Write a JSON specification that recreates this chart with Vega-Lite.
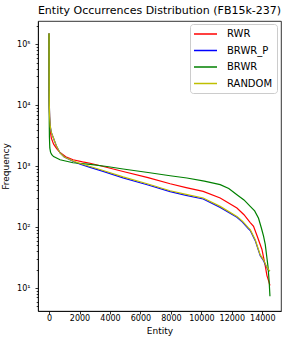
{
  "$schema": "https://vega.github.io/schema/vega-lite/v6.json",
  "width": 243,
  "height": 290,
  "autosize": {"type": "none"},
  "padding": {"left": 38, "top": 21, "right": 6, "bottom": 33},
  "background": "white",
  "title": {"text": "Entity Occurrences Distribution (FB15k-237)", "fontSize": 11, "font": "DejaVu Sans", "fontWeight": "normal", "anchor": "middle", "offset": 5, "color": "black"},
  "datasets": {
    "pts": [
      {"series":"RWR","entity":0,"frequency":150000},{"series":"RWR","entity":4,"frequency":40000},{"series":"RWR","entity":10,"frequency":15000},{"series":"RWR","entity":20,"frequency":9000},{"series":"RWR","entity":40,"frequency":5500},{"series":"RWR","entity":80,"frequency":3800},{"series":"RWR","entity":150,"frequency":2900},{"series":"RWR","entity":300,"frequency":2300},{"series":"RWR","entity":500,"frequency":1950},{"series":"RWR","entity":723,"frequency":1680},{"series":"RWR","entity":1100,"frequency":1430},{"series":"RWR","entity":1577,"frequency":1280},{"series":"RWR","entity":2200,"frequency":1180},{"series":"RWR","entity":2694,"frequency":1120},{"series":"RWR","entity":3500,"frequency":1000},{"series":"RWR","entity":4863,"frequency":820},{"series":"RWR","entity":6500,"frequency":650},{"series":"RWR","entity":7952,"frequency":515},{"series":"RWR","entity":9000,"frequency":445},{"series":"RWR","entity":10121,"frequency":386},{"series":"RWR","entity":11238,"frequency":301},{"series":"RWR","entity":12336,"frequency":206},{"series":"RWR","entity":12800,"frequency":160},{"series":"RWR","entity":13210,"frequency":119},{"series":"RWR","entity":13427,"frequency":103},{"series":"RWR","entity":13670,"frequency":71},{"series":"RWR","entity":13979,"frequency":43},{"series":"RWR","entity":14196,"frequency":23},{"series":"RWR","entity":14308,"frequency":16},{"series":"RWR","entity":14420,"frequency":13},{"series":"RWR","entity":14505,"frequency":11},
      {"series":"BRWR_P","entity":0,"frequency":155000},{"series":"BRWR_P","entity":4,"frequency":45000},{"series":"BRWR_P","entity":10,"frequency":18000},{"series":"BRWR_P","entity":20,"frequency":10000},{"series":"BRWR_P","entity":40,"frequency":6500},{"series":"BRWR_P","entity":80,"frequency":4500},{"series":"BRWR_P","entity":150,"frequency":3600},{"series":"BRWR_P","entity":300,"frequency":2850},{"series":"BRWR_P","entity":500,"frequency":2100},{"series":"BRWR_P","entity":723,"frequency":1650},{"series":"BRWR_P","entity":1000,"frequency":1420},{"series":"BRWR_P","entity":1577,"frequency":1210},{"series":"BRWR_P","entity":2000,"frequency":1090},{"series":"BRWR_P","entity":2694,"frequency":960},{"series":"BRWR_P","entity":3500,"frequency":830},{"series":"BRWR_P","entity":4863,"frequency":645},{"series":"BRWR_P","entity":6500,"frequency":492},{"series":"BRWR_P","entity":7952,"frequency":382},{"series":"BRWR_P","entity":9000,"frequency":333},{"series":"BRWR_P","entity":10121,"frequency":290},{"series":"BRWR_P","entity":11238,"frequency":211},{"series":"BRWR_P","entity":12336,"frequency":145},{"series":"BRWR_P","entity":12700,"frequency":121},{"series":"BRWR_P","entity":13078,"frequency":95},{"series":"BRWR_P","entity":13210,"frequency":88},{"series":"BRWR_P","entity":13539,"frequency":60},{"series":"BRWR_P","entity":13867,"frequency":34},{"series":"BRWR_P","entity":14084,"frequency":28},{"series":"BRWR_P","entity":14300,"frequency":21.5},{"series":"BRWR_P","entity":14413,"frequency":19.5},{"series":"BRWR_P","entity":14505,"frequency":19},
      {"series":"BRWR","entity":0,"frequency":150000},{"series":"BRWR","entity":3,"frequency":40000},{"series":"BRWR","entity":8,"frequency":12000},{"series":"BRWR","entity":15,"frequency":5000},{"series":"BRWR","entity":25,"frequency":3000},{"series":"BRWR","entity":50,"frequency":2000},{"series":"BRWR","entity":100,"frequency":1700},{"series":"BRWR","entity":177,"frequency":1550},{"series":"BRWR","entity":300,"frequency":1440},{"series":"BRWR","entity":723,"frequency":1280},{"series":"BRWR","entity":1577,"frequency":1140},{"series":"BRWR","entity":2694,"frequency":1070},{"series":"BRWR","entity":3800,"frequency":990},{"series":"BRWR","entity":4863,"frequency":900},{"series":"BRWR","entity":6500,"frequency":790},{"series":"BRWR","entity":7952,"frequency":698},{"series":"BRWR","entity":9050,"frequency":641},{"series":"BRWR","entity":10200,"frequency":570},{"series":"BRWR","entity":11238,"frequency":498},{"series":"BRWR","entity":11800,"frequency":430},{"series":"BRWR","entity":12336,"frequency":341},{"series":"BRWR","entity":12800,"frequency":280},{"series":"BRWR","entity":13210,"frequency":219},{"series":"BRWR","entity":13500,"frequency":185},{"series":"BRWR","entity":13755,"frequency":140},{"series":"BRWR","entity":13950,"frequency":95},{"series":"BRWR","entity":14084,"frequency":71},{"series":"BRWR","entity":14196,"frequency":52},{"series":"BRWR","entity":14300,"frequency":32},{"series":"BRWR","entity":14380,"frequency":22},{"series":"BRWR","entity":14450,"frequency":13},{"series":"BRWR","entity":14505,"frequency":7.3},
      {"series":"RANDOM","entity":0,"frequency":155000},{"series":"RANDOM","entity":4,"frequency":45000},{"series":"RANDOM","entity":10,"frequency":18000},{"series":"RANDOM","entity":20,"frequency":10000},{"series":"RANDOM","entity":40,"frequency":6500},{"series":"RANDOM","entity":80,"frequency":4500},{"series":"RANDOM","entity":150,"frequency":3600},{"series":"RANDOM","entity":300,"frequency":2850},{"series":"RANDOM","entity":500,"frequency":2100},{"series":"RANDOM","entity":723,"frequency":1650},{"series":"RANDOM","entity":1000,"frequency":1420},{"series":"RANDOM","entity":1577,"frequency":1220},{"series":"RANDOM","entity":2000,"frequency":1120},{"series":"RANDOM","entity":2694,"frequency":990},{"series":"RANDOM","entity":3500,"frequency":860},{"series":"RANDOM","entity":4863,"frequency":668},{"series":"RANDOM","entity":6500,"frequency":510},{"series":"RANDOM","entity":7952,"frequency":396},{"series":"RANDOM","entity":9000,"frequency":345},{"series":"RANDOM","entity":10121,"frequency":301},{"series":"RANDOM","entity":11238,"frequency":219},{"series":"RANDOM","entity":12336,"frequency":150},{"series":"RANDOM","entity":12700,"frequency":125},{"series":"RANDOM","entity":13078,"frequency":98},{"series":"RANDOM","entity":13210,"frequency":91},{"series":"RANDOM","entity":13539,"frequency":62},{"series":"RANDOM","entity":13867,"frequency":35},{"series":"RANDOM","entity":14084,"frequency":29},{"series":"RANDOM","entity":14300,"frequency":22},{"series":"RANDOM","entity":14413,"frequency":20},{"series":"RANDOM","entity":14505,"frequency":19}
    ]
  },
  "data": {"name": "pts"},
  "encoding": {
    "x": {"field": "entity", "type": "quantitative",
      "scale": {"domain": [-725, 15230], "nice": false, "zero": false},
      "axis": {"title": "Entity", "values": [0,2000,4000,6000,8000,10000,12000,14000], "format": "d", "grid": false, "tickSize": 3, "labelPadding": 0.5, "titlePadding": 4}},
    "y": {"field": "frequency", "type": "quantitative",
      "scale": {"type": "log", "domain": [4.19, 243000], "nice": false},
      "axis": {"title": "Frequency", "grid": false,
        "values": [5,6,7,8,9,10,20,30,40,50,60,70,80,90,100,200,300,400,500,600,700,800,900,1000,2000,3000,4000,5000,6000,7000,8000,9000,10000,20000,30000,40000,50000,60000,70000,80000,90000,100000,200000],
        "labelExpr": "datum.value==10?'10¹':datum.value==100?'10²':datum.value==1000?'10³':datum.value==10000?'10⁴':datum.value==100000?'10⁵':''",
        "tickSize": {"condition": {"test": "indexof([10,100,1000,10000,100000], datum.value) >= 0", "value": 3}, "value": 1.8},
        "labelPadding": 5, "titlePadding": 6}},
    "color": {"field": "series", "type": "nominal",
      "scale": {"domain": ["RWR","BRWR_P","BRWR","RANDOM"], "range": ["#ff0000","#0000ff","#008000","#bfbf00"]},
      "legend": {"title": null, "orient": "none", "legendX": 152, "legendY": 3,
        "symbolType": "M-1.2,0H3.4", "symbolSize": 100, "symbolStrokeWidth": 1.5,
        "labelOffset": 21, "rowPadding": 5.5, "padding": 4,
        "strokeColor": "#cccccc", "fillColor": "white", "cornerRadius": 3,
        "labelFont": "DejaVu Sans", "labelFontSize": 10, "labelColor": "black"}}
  },
  "layer": [
    {"transform": [{"filter": "datum.series == 'RWR'"}], "mark": {"type": "line", "strokeWidth": 1.2}},
    {"transform": [{"filter": "datum.series == 'BRWR_P'"}], "mark": {"type": "line", "strokeWidth": 1.2}},
    {"transform": [{"filter": "datum.series == 'BRWR'"}], "mark": {"type": "line", "strokeWidth": 1.2}},
    {"transform": [{"filter": "datum.series == 'RANDOM'"}], "mark": {"type": "line", "strokeWidth": 1.2}}
  ],
  "config": {
    "view": {"stroke": "black", "strokeWidth": 0.8},
    "axis": {"domainColor": "black", "domainWidth": 0.8, "tickColor": "black", "tickWidth": 0.8,
      "labelFont": "DejaVu Sans", "labelFontSize": 8, "labelColor": "black",
      "titleFont": "DejaVu Sans", "titleFontSize": 9, "titleFontWeight": "normal", "titleColor": "black"}
  }
}
